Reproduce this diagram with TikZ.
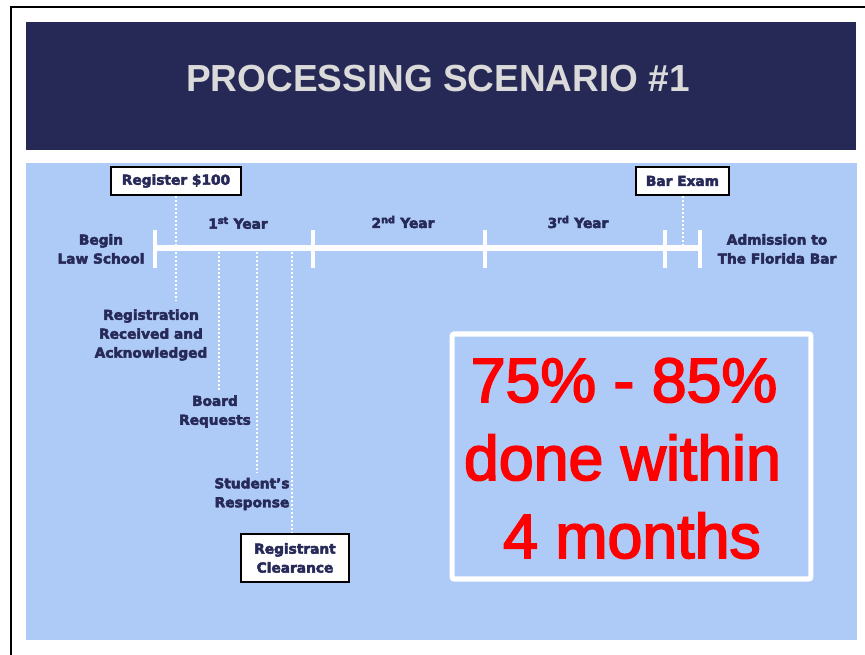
\documentclass[tikz,border=0pt]{standalone}
\usepackage{fontspec}
\setmainfont{DejaVu Sans}
\newfontfamily\titlefont{Liberation Sans}
\newfontfamily\redfont{Liberation Sans}
\newcommand{\heavytext}[2]{\special{pdf:literal 2 Tr #1 w}#2\special{pdf:literal 0 Tr}}
\definecolor{barnavy}{HTML}{262955}
\definecolor{textnavy}{HTML}{272A58}
\definecolor{panelblue}{HTML}{AECBF7}
\definecolor{titlegray}{HTML}{DADADA}
\definecolor{bigred}{HTML}{FF0000}
\tikzset{
  lab/.style={font=\bfseries\fontsize{10.3}{14.2}\selectfont, text=textnavy, align=center, inner sep=0pt},
  wbox/.style={lab, draw=black, line width=0.8pt, fill=white},
  dotline/.style={white, line width=1.5pt, dash pattern=on 1.5pt off 1.5pt},
  tline/.style={white, line width=4.5pt},
  tick/.style={white, line width=2.4pt},
  redtxt/.style={font=\redfont\fontsize{47}{47}\selectfont, text=bigred, inner sep=0pt, anchor=base},
}
\begin{document}
\begin{tikzpicture}[x=0.75pt,y=-0.75pt]
\useasboundingbox (0,0) rectangle (865,655);
\fill[white] (0,0) rectangle (865,655);
\draw[black, line width=2.2pt] (11,655) -- (11,7) -- (865,7);
% title bar
\fill[barnavy] (26,22) rectangle (856,150);
\node[font=\titlefont\bfseries\fontsize{28.3}{30}\selectfont, text=titlegray, inner sep=0pt] (title) at (438,78.5) {\scalebox{0.98}[1]{PROCESSING SCENARIO \#1}};
% panel
\fill[panelblue] (26,163) rectangle (857,640);
% timeline
\coordinate (tA) at (155,248.5);
\coordinate (tB) at (313,248.5);
\coordinate (tC) at (485,248.5);
\coordinate (tD) at (665,248.5);
\coordinate (tE) at (700,248.5);
\draw[tline] (tA) -- (tE);
\foreach \p in {tA,tB,tC,tD,tE}{
  \draw[tick] ([yshift=13.5]\p) -- ([yshift=-14.5]\p);
}
% dotted connectors (drawn under boxes)
\coordinate (e1) at (177,301);
\coordinate (s2) at (219,252);
\coordinate (e2) at (219,392);
\coordinate (s3) at (257,252);
\coordinate (e3) at (257,473);
\coordinate (s4) at (292,252);
\coordinate (eb) at (682.5,244);
% boxes
\node[wbox, minimum width=97.5pt, minimum height=21pt] (reg) at (176,181) {\heavytext{0.35}{Register \$100}};
\node[wbox, minimum width=69.75pt, minimum height=21pt] (bar) at (682.5,181) {\heavytext{0.35}{Bar Exam}};
\node[wbox, minimum width=81pt, minimum height=36pt] (clr) at (295,558) {\heavytext{0.35}{Registrant}\\\heavytext{0.35}{Clearance}};
\draw[dotline] (reg.south) -- (reg.south |- e1);
\draw[dotline] (s2) -- (e2);
\draw[dotline] (s3) -- (e3);
\draw[dotline] (s4) -- (s4 |- clr.north);
\draw[dotline] (bar.south) -- (eb);
% labels
\node[lab] (begin) at (101,249) {\heavytext{0.35}{Begin}\\\heavytext{0.35}{Law School}};
\node[lab] (y1) at (238,223) {\heavytext{0.35}{1\textsuperscript{st} Year}};
\node[lab] (y2) at (403,222) {\heavytext{0.35}{2\textsuperscript{nd} Year}};
\node[lab] (y3) at (578,222) {\heavytext{0.35}{3\textsuperscript{rd} Year}};
\node[lab] (adm) at (777,249) {\heavytext{0.35}{Admission to}\\\heavytext{0.35}{The Florida Bar}};
\node[lab] (rra) at (151,335) {\heavytext{0.35}{Registration}\\\heavytext{0.35}{Received and}\\\heavytext{0.35}{Acknowledged}};
\node[lab] (brd) at (215,411.5) {\heavytext{0.35}{Board}\\\heavytext{0.35}{Requests}};
\node[lab] (stu) at (252,494) {\heavytext{0.35}{Student’s}\\\heavytext{0.35}{Response}};
% red box
\node[draw=white, line width=3.8pt, rounded corners=1.5pt, minimum width=269pt, minimum height=183.75pt, inner sep=0pt] (rbox) at (631.5,456.5) {};
\node[redtxt] (r1) at (624,402) {\heavytext{1.3}{75\% - 85\%}};
\node[redtxt] (r2) at (622.5,480) {\heavytext{1.3}{done within}};
\node[redtxt] (r3) at (632,558) {\heavytext{1.3}{4 months}};
\end{tikzpicture}
\end{document}
